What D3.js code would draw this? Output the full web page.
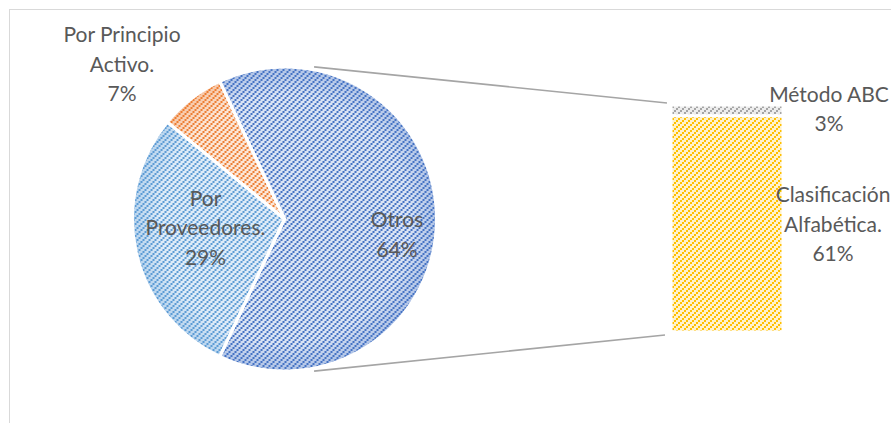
<!DOCTYPE html>
<html>
<head>
<meta charset="utf-8">
<script src="https://cdn.jsdelivr.net/npm/d3@7"></script>
<style>
  body { margin: 0; background: #fff; }
  svg { display: block; }
  .lbl { font-family: Lato, "Open Sans", sans-serif; font-size: 21px; fill: #595959; }
</style>
</head>
<body>
<div id="chart"></div>
<script>
/* pie data (the "Otros" slice is broken out into the bar) */
const pieCats = ["Otros", "Por Proveedores.", "Por Principio Activo."];
const pieValues = [64, 29, 7];
const pieLabels = [["Otros", "64%"], ["Por", "Proveedores.", "29%"], ["Por Principio", "Activo.", "7%"]];

/* bar data (stacked, bottom to top) */
const barCats = ["Clasificación Alfabética.", "Método ABC"];
const barValues = [61, 3];
const barLabels = [["Clasificación", "Alfabética.", "61%"], ["Método ABC", "3%"]];

const W = 891, H = 423;
const cx = 284.5, cy = 219, R = 152;

const svg = d3.select("#chart").append("svg")
    .attr("width", W).attr("height", H);

/* chart area border */
svg.append("rect")
    .attr("x", 9.5).attr("y", 9.5)
    .attr("width", W + 20).attr("height", H + 20)
    .attr("fill", "none").attr("stroke", "#d9d9d9").attr("stroke-width", 1);

/* patterns: dotted upward diagonal on a light tint, plus soft edge glow for the pie */
const pal = {
  "Otros": ["#4472c4", "#dae3f3"],
  "Por Proveedores.": ["#5b9bd5", "#deebf7"],
  "Por Principio Activo.": ["#ed7d31", "#fbe5d6"],
  "Método ABC": ["#a5a5a5", "#ededed"],
  "Clasificación Alfabética.": ["#ffc000", "#fff2cc"]
};
const defs = svg.append("defs");
Object.keys(pal).forEach((k, i) => {
  const p = defs.append("pattern")
      .attr("id", "pat" + i)
      .attr("patternUnits", "userSpaceOnUse")
      .attr("width", 6).attr("height", 6);
  p.append("rect").attr("width", 6).attr("height", 6).attr("fill", pal[k][1]);
  [[0, 4], [2, 2], [4, 0]].forEach(q =>
    p.append("rect").attr("x", q[0]).attr("y", q[1])
        .attr("width", 2).attr("height", 2).attr("fill", pal[k][0]));
  const g = defs.append("radialGradient")
      .attr("id", "glow" + i)
      .attr("gradientUnits", "userSpaceOnUse")
      .attr("cx", 0).attr("cy", 0).attr("r", R);
  g.append("stop").attr("offset", "0.82").attr("stop-color", pal[k][0]).attr("stop-opacity", 0);
  g.append("stop").attr("offset", "1").attr("stop-color", pal[k][0]).attr("stop-opacity", 0.3);
});
const patIdx = k => Object.keys(pal).indexOf(k);

/* pie: "Otros" centred on the right (90deg) */
const total = d3.sum(pieValues);
const otrosSpan = pieValues[0] / total * 2 * Math.PI;
const startA = Math.PI / 2 - otrosSpan / 2;
const pie = d3.pie().sort(null).value(d => d.v)
    .startAngle(startA).endAngle(startA + 2 * Math.PI);
const arcs = pie(pieCats.map((c, i) => ({ c, v: pieValues[i], lines: pieLabels[i] })));
const arc = d3.arc().innerRadius(0).outerRadius(R);

const gPie = svg.append("g").attr("transform", `translate(${cx},${cy})`);
gPie.selectAll("path.slice")
    .data(arcs).enter().append("path")
    .attr("class", "slice")
    .attr("d", arc)
    .attr("fill", d => `url(#pat${patIdx(d.data.c)})`);
gPie.selectAll("path.glow")
    .data(arcs).enter().append("path")
    .attr("class", "glow")
    .attr("d", arc)
    .attr("fill", d => `url(#glow${patIdx(d.data.c)})`);
gPie.selectAll("path.edge")
    .data(arcs).enter().append("path")
    .attr("class", "edge")
    .attr("d", arc)
    .attr("fill", "none").attr("stroke", "#fff").attr("stroke-width", 3)
    .attr("stroke-linejoin", "round");

/* bar of "Otros" */
const barX = 671, barW = 112;
const y = d3.scaleLinear().domain([0, d3.sum(barValues)]).range([332, 105]);
let acc = 0;
const stack = barCats.map((c, i) => {
  const s = { c, v: barValues[i], y0: acc, y1: acc + barValues[i], lines: barLabels[i] };
  acc += barValues[i];
  return s;
});
svg.append("g").selectAll("rect")
    .data(stack).enter().append("rect")
    .attr("x", barX).attr("width", barW)
    .attr("y", d => y(d.y1))
    .attr("height", d => y(d.y0) - y(d.y1))
    .attr("fill", d => `url(#pat${patIdx(d.c)})`)
    .attr("stroke", "#fff").attr("stroke-width", 3);

/* connector lines */
const conA = 11 * Math.PI / 180;
const topPt = [cx + (R + 3) * Math.sin(conA), cy - (R + 3) * Math.cos(conA)];
const botPt = [cx + (R + 3) * Math.sin(conA), cy + (R + 3) * Math.cos(conA)];
const conns = [[topPt, [barX - 4, y(d3.sum(barValues)) - 2]], [botPt, [barX - 6, y(0) + 3]]];
svg.append("g").selectAll("line")
    .data(conns).enter().append("line")
    .attr("x1", d => d[0][0]).attr("y1", d => d[0][1])
    .attr("x2", d => d[1][0]).attr("y2", d => d[1][1])
    .attr("stroke", "#a5a5a5").attr("stroke-width", 1.6);

/* labels */
const lh = 29.5;
const drawLabel = (lines, x, yMid) => {
  const t = svg.append("text").attr("class", "lbl").attr("text-anchor", "middle");
  const y0 = yMid - (lines.length - 1) * lh / 2;
  lines.forEach((s, i) => t.append("tspan").attr("x", x).attr("y", y0 + i * lh).text(s));
};
// pie labels: inside for the big slices, small slice outside upper-left
const pieLabelPos = [
  d => [cx + 0.74 * R * Math.sin((d.startAngle + d.endAngle) / 2), cy + 23],
  d => [cx - 79, 235],
  d => [122, 71.5]
];
arcs.forEach((d, i) => {
  const p = pieLabelPos[i](d);
  drawLabel(d.data.lines, p[0], p[1]);
});
// bar labels to the right of the bar
drawLabel(stack[0].lines, barX + barW + 50, (y(stack[0].y0) + y(stack[0].y1)) / 2 + 8);
drawLabel(stack[1].lines, barX + barW + 46, 116.5);
</script>
</body>
</html>
